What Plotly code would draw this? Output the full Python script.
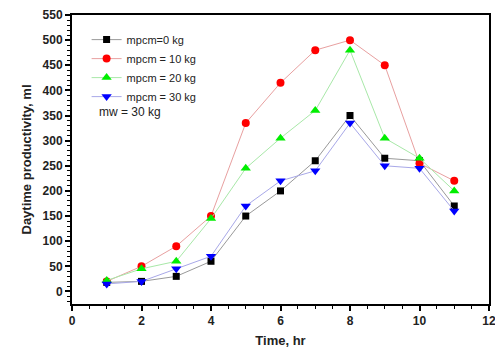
import plotly.graph_objects as go

time_hr = [1, 2, 3, 4, 5, 6, 7, 8, 9, 10, 11]
mpcm_0 = [18, 20, 30, 60, 150, 200, 260, 350, 265, 260, 170]
mpcm_10 = [20, 50, 90, 150, 335, 415, 480, 500, 450, 255, 220]
mpcm_20 = [22, 45, 60, 145, 245, 305, 360, 480, 305, 265, 200]
mpcm_30 = [15, 20, 45, 70, 170, 220, 240, 335, 250, 245, 160]

series = [
    ("mpcm=0 kg", mpcm_0, "#000000", "#999999", "square", 7),
    ("mpcm = 10 kg", mpcm_10, "#ff0000", "#e8a0a0", "circle", 8),
    ("mpcm = 20 kg", mpcm_20, "#00ee00", "#a8e8a8", "triangle-up", 9),
    ("mpcm = 30 kg", mpcm_30, "#0000ff", "#a8a8e8", "triangle-down", 9),
]

fig = go.Figure()
for name, ys, mc, lc, sym, sz in series:
    fig.add_trace(go.Scatter(
        x=time_hr, y=ys, name=name, mode="lines+markers",
        line=dict(color=lc, width=1),
        marker=dict(color=mc, symbol=sym, size=sz),
    ))

axis_common = dict(
    showline=True, linecolor="black", linewidth=2, mirror=True,
    ticks="outside", ticklen=5, tickwidth=1.5, tickcolor="black",
    showgrid=False, zeroline=False, automargin=False,
    ticklabeloverflow="allow",
    tickfont=dict(family="Liberation Sans", size=12, color="#222", weight="bold"),
    minor=dict(ticks="outside", ticklen=3, tickwidth=1, tickcolor="black"),
)

fig.update_xaxes(range=[0, 12], dtick=2, **axis_common,
                 title=dict(text="Time, hr", font=dict(family="Liberation Sans", size=13, color="#222", weight="bold"), standoff=10))
fig.update_yaxes(range=[-25, 550], dtick=50, **axis_common,
                 title=dict(text="Daytime productivity, ml", font=dict(family="Liberation Sans", size=13, color="#222", weight="bold"), standoff=8))

fig.add_annotation(text="mw = 30 kg", x=0.06, y=0.665, xref="paper", yref="paper",
                   showarrow=False, xanchor="left", yanchor="middle",
                   font=dict(family="Liberation Sans", size=12, color="#222"))

fig.update_layout(
    width=495, height=348,
    margin=dict(l=72, r=6, t=15, b=44),
    paper_bgcolor="white", plot_bgcolor="white",
    showlegend=True,
    legend=dict(x=0.035, y=0.965, xanchor="left", yanchor="top",
                bgcolor="rgba(0,0,0,0)", tracegroupgap=0,
                font=dict(family="Liberation Sans", size=11, color="#222"),
                itemwidth=30),
)

fig.write_html("out.html")
